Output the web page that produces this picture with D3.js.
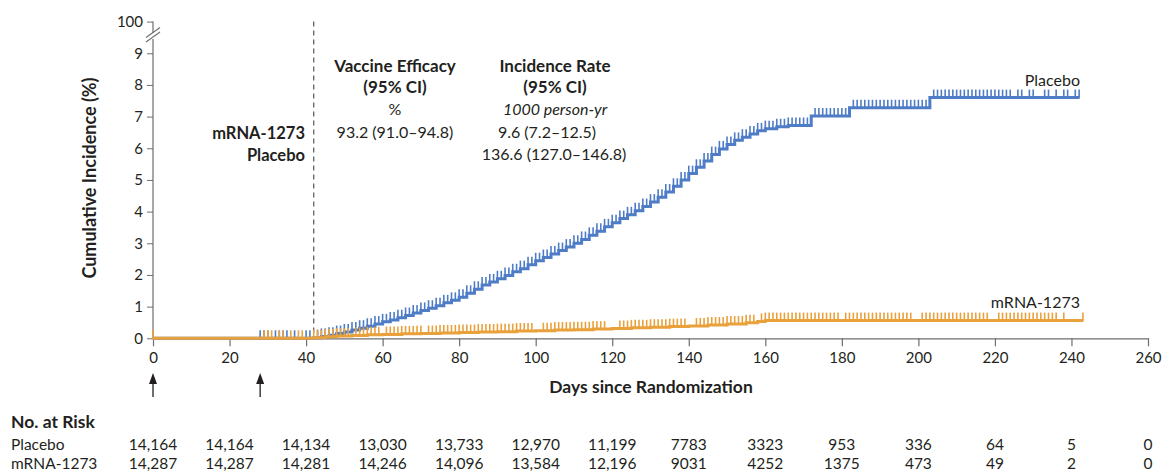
<!DOCTYPE html>
<html>
<head>
<meta charset="utf-8">
<script src="https://cdn.jsdelivr.net/npm/d3@7"></script>
<style>
body { margin: 0; background: #fff; }
svg { display: block; font-family: Lato, "Open Sans", sans-serif; }
</style>
</head>
<body>
<script>
// x axis ticks (days) and y axis ticks (%); the top tick is shown as 100 after the break
var dayTicks = [0, 20, 40, 60, 80, 100, 120, 140, 160, 180, 200, 220, 240, 260];
var pctTicks = [0, 1, 2, 3, 4, 5, 6, 7, 8, 9, 10];

// cumulative incidence, [day, %], step after
var placeboCurve = [[0, 0], [42, 0.02], [44, 0.06], [46, 0.1], [48, 0.15], [50, 0.2], [52, 0.26], [54, 0.32],
  [56, 0.38], [58, 0.45], [60, 0.52], [62, 0.58], [64, 0.65], [66, 0.72], [68, 0.8], [70, 0.88], [72, 0.95],
  [74, 1.03], [76, 1.12], [78, 1.2], [80, 1.3], [82, 1.42], [84, 1.55], [86, 1.68], [88, 1.78], [90, 1.88],
  [92, 1.98], [94, 2.1], [96, 2.2], [98, 2.32], [100, 2.45], [102, 2.55], [104, 2.66], [106, 2.77], [108, 2.88],
  [110, 3.0], [112, 3.12], [114, 3.25], [116, 3.38], [118, 3.52], [120, 3.65], [122, 3.78], [124, 3.9],
  [126, 4.03], [128, 4.16], [130, 4.3], [132, 4.45], [134, 4.62], [136, 4.8], [138, 5.0], [140, 5.2],
  [142, 5.4], [144, 5.6], [146, 5.8], [148, 5.98], [150, 6.12], [152, 6.25], [154, 6.35], [156, 6.45],
  [158, 6.55], [160, 6.62], [163, 6.68], [166, 6.72], [172, 7.02], [182, 7.28], [203, 7.6], [242, 7.6]];

var mrnaCurve = [[0, 0], [42, 0.02], [45, 0.05], [48, 0.07], [52, 0.09], [56, 0.11], [60, 0.12], [65, 0.14],
  [70, 0.15], [75, 0.17], [80, 0.18], [85, 0.2], [90, 0.21], [95, 0.23], [100, 0.24], [105, 0.26], [110, 0.27],
  [115, 0.29], [120, 0.31], [125, 0.33], [130, 0.35], [135, 0.37], [140, 0.39], [145, 0.42], [150, 0.45],
  [155, 0.49], [158, 0.53], [160, 0.56], [243, 0.56]];

// censoring marks (days)
var placeboCensor = [28, 29, 30, 32, 33, 34, 35, 37, 40, 41,
  43, 44, 45, 46, 47, 48, 49, 50, 51, 52, 53, 54, 55, 56, 57, 58, 59, 60, 61, 62,
  63, 64, 65, 66, 67, 68, 69, 70, 71, 72, 73, 74, 75, 76, 77, 78, 79, 80, 81, 82,
  83, 84, 85, 86, 87, 88, 89, 90, 91, 92, 93, 94, 95, 96, 97, 98, 99, 100, 101, 102,
  103, 104, 105, 106, 107, 108, 109, 110, 111, 112, 113, 114, 115, 116, 117, 118, 119, 120, 121, 122,
  123, 124, 125, 126, 127, 128, 129, 130, 131, 132, 133, 134, 135, 136, 137, 138, 139, 140, 141, 142,
  143, 144, 145, 146, 147, 148, 149, 150, 151, 152, 153, 154, 155, 156, 157, 158, 159, 160, 161, 162,
  163, 164, 165, 166, 167, 168, 169, 170, 171, 173, 174, 175, 176, 177, 178, 179, 180, 181,
  183, 184, 185, 186, 187, 188, 189, 190, 191, 192, 193, 194, 195, 196, 197, 198, 199, 200, 201, 202,
  204, 205, 206, 207, 208, 209, 210, 211, 212, 213, 214, 215, 216, 217, 218, 219, 220, 221, 222, 223, 224,
  226, 227, 229, 230, 233, 234, 236, 238, 239, 241, 242];

var mrnaCensor = [0, 29, 30, 31, 33, 34, 36, 38, 39,
  42, 43, 44, 45, 46, 47, 48, 49, 50, 51, 53, 54, 55, 56, 57, 58, 59, 61, 62, 63, 64, 65, 66, 67, 68, 69, 70,
  72, 73, 74, 75, 76, 77, 78, 79, 80, 81, 82, 83, 84, 85, 86, 87, 88, 89, 90, 91, 92, 93, 94, 95, 96, 97, 98, 99,
  102, 103, 104, 105, 106, 107, 108, 109, 110, 111, 112, 113, 114, 115, 116, 117, 118,
  122, 123, 124, 125, 126, 127, 128, 129, 130, 131, 132, 133, 134, 135, 136, 137, 138, 139,
  142, 143, 144, 145, 146, 147, 148, 149, 150, 151, 152, 153, 154, 155, 156, 157,
  159, 160, 161, 162, 163, 164, 165, 166, 167, 168, 169, 170, 171, 172, 173, 174, 175, 176, 177, 178, 179,
  181, 182, 183, 184, 185, 186, 187, 188, 189, 190, 191, 192, 193, 194, 195, 196, 197, 198,
  201, 202, 203, 204, 205, 206, 207, 208, 209, 210, 211, 212, 213, 214, 215, 216, 217, 218,
  221, 222, 223, 224, 225, 226, 227, 228, 229, 230, 231, 232, 233, 234, 235, 236, 238, 243];

// numbers at risk
var riskDays = dayTicks;
var placeboRisk = [14164, 14164, 14134, 13030, 13733, 12970, 11199, 7783, 3323, 953, 336, 64, 5, 0];
var mrnaRisk = [14287, 14287, 14281, 14246, 14096, 13584, 12196, 9031, 4252, 1375, 473, 49, 2, 0];

// vaccination days (arrows)
var doseDays = [0, 28];

var blue = "#4f7cc6", orange = "#e9a13b", axisGrey = "#6d6e71", ink = "#231f20";

var width = 1168, height = 474;

var x = d3.scaleLinear().domain([0, 260]).range([153, 1148]);
var y = d3.scaleLinear().domain([0, 10]).range([338.3, 21.6]);

var svg = d3.select("body")
    .append("svg")
        .attr("width", width)
        .attr("height", height);

// y axis (with break)
var yAxis = d3.axisLeft(y)
    .tickValues(pctTicks)
    .tickFormat(function(d) { return d === 10 ? "100" : d; })
    .tickSize(6)
    .tickSizeOuter(0)
    .tickPadding(4);

var gy = svg.append("g")
    .attr("transform", "translate(" + x(0) + ",0)")
    .call(yAxis);
gy.select(".domain").remove();
gy.selectAll(".tick line").attr("stroke", axisGrey);
gy.selectAll(".tick text")
    .attr("fill", ink)
    .style("font-size", "15px")
    .style("font-family", "Lato, sans-serif");

svg.append("line")
    .attr("x1", x(0)).attr("x2", x(0))
    .attr("y1", y(0)).attr("y2", 39)
    .attr("stroke", axisGrey).attr("stroke-width", 1.2);
svg.append("line")
    .attr("x1", x(0)).attr("x2", x(0))
    .attr("y1", 33).attr("y2", y(10))
    .attr("stroke", axisGrey).attr("stroke-width", 1.2);
[0, 4.5].forEach(function(off) {
    svg.append("line")
        .attr("x1", x(0) - 7).attr("y1", 42 - off)
        .attr("x2", x(0) + 7).attr("y2", 32 - off)
        .attr("stroke", axisGrey).attr("stroke-width", 1.1);
});

// x axis
var xAxis = d3.axisBottom(x)
    .tickValues(dayTicks)
    .tickSize(8)
    .tickSizeOuter(0);

var gx = svg.append("g")
    .attr("transform", "translate(0," + y(0) + ")")
    .call(xAxis);
gx.select(".domain").attr("stroke", axisGrey).attr("stroke-width", 1.2);
gx.selectAll(".tick line").attr("stroke", axisGrey).attr("stroke-width", 1.2);
gx.selectAll(".tick text")
    .attr("fill", ink)
    .attr("dy", null)
    .attr("y", 25)
    .style("font-size", "15px")
    .style("font-family", "Lato, sans-serif");

// dashed line at day 42
svg.append("line")
    .attr("x1", x(42)).attr("x2", x(42))
    .attr("y1", y(10)).attr("y2", y(0))
    .attr("stroke", "#555").attr("stroke-width", 1.2)
    .attr("stroke-dasharray", "5,4");

// curves
var line = d3.line()
    .x(function(d) { return x(d[0]); })
    .y(function(d) { return y(d[1]); })
    .curve(d3.curveStepAfter);

var bisectDay = d3.bisector(function(d) { return d[0]; }).right;
function valueAt(curve, day) {
    var i = bisectDay(curve, day);
    return curve[Math.max(0, i - 1)][1];
}

function drawSeries(curve, censor, color) {
    svg.append("path")
        .attr("d", line(curve))
        .attr("fill", "none")
        .attr("stroke", color)
        .attr("stroke-width", 3);

    svg.append("g").selectAll("line")
        .data(censor)
        .enter().append("line")
            .attr("x1", function(d) { return x(d); })
            .attr("x2", function(d) { return x(d); })
            .attr("y1", function(d) { return y(valueAt(curve, d)) + 1; })
            .attr("y2", function(d) { return y(valueAt(curve, d)) - 8; })
            .attr("stroke", color)
            .attr("stroke-width", 1.6);
}

drawSeries(placeboCurve, placeboCensor, blue);
drawSeries(mrnaCurve, mrnaCensor, orange);

// text helper
function label(txt, px, py, opts) {
    opts = opts || {};
    svg.append("text")
        .attr("x", px).attr("y", py)
        .attr("text-anchor", opts.anchor || "middle")
        .attr("fill", ink)
        .style("font-size", (opts.size || 16) + "px")
        .style("font-weight", opts.bold ? "bold" : "normal")
        .style("font-style", opts.italic ? "italic" : "normal")
        .text(txt);
}

// series labels
label("Placebo", 1080, 86, {anchor: "end"});
label("mRNA-1273", 1080, 308, {anchor: "end"});

// axis titles
svg.append("text")
    .attr("transform", "translate(96,178) rotate(-90)")
    .attr("text-anchor", "middle")
    .attr("fill", ink)
    .style("font-size", "18px")
    .style("font-weight", "bold")
    .text("Cumulative Incidence (%)");

label("Days since Randomization", 651, 393, {bold: true, size: 17.5});

// efficacy table inside the plot
label("mRNA-1273", 305, 139, {anchor: "end", bold: true, size: 16.5});
label("Placebo", 305, 161, {anchor: "end", bold: true, size: 16.5});

label("Vaccine Efficacy", 395, 72, {bold: true, size: 17});
label("(95% CI)", 395, 93, {bold: true, size: 17});
label("%", 395, 115);
label("93.2 (91.0\u201394.8)", 395, 138);

label("Incidence Rate", 555, 72, {bold: true, size: 17});
label("(95% CI)", 555, 93, {bold: true, size: 17});
label("1000 person-yr", 555, 115, {italic: true});
label("9.6 (7.2\u201312.5)", 547, 138);
label("136.6 (127.0\u2013146.8)", 554, 160);

// dose arrows
doseDays.forEach(function(d) {
    svg.append("line")
        .attr("x1", x(d)).attr("x2", x(d))
        .attr("y1", 397).attr("y2", 380)
        .attr("stroke", ink).attr("stroke-width", 1.3);
    svg.append("path")
        .attr("d", "M" + x(d) + ",373 L" + (x(d) - 4) + ",384 L" + (x(d) + 4) + ",384 Z")
        .attr("fill", ink);
});

// numbers at risk
function fmtRisk(n) { return n >= 10000 ? d3.format(",")(n) : String(n); }

label("No. at Risk", 11, 428, {anchor: "start", bold: true, size: 17.5});
label("Placebo", 11, 450, {anchor: "start", size: 15.5});
label("mRNA-1273", 11, 469, {anchor: "start", size: 15.5});

riskDays.forEach(function(d, i) {
    label(fmtRisk(placeboRisk[i]), x(d), 450, {size: 15.5});
    label(fmtRisk(mrnaRisk[i]), x(d), 469, {size: 15.5});
});
</script>
</body>
</html>
